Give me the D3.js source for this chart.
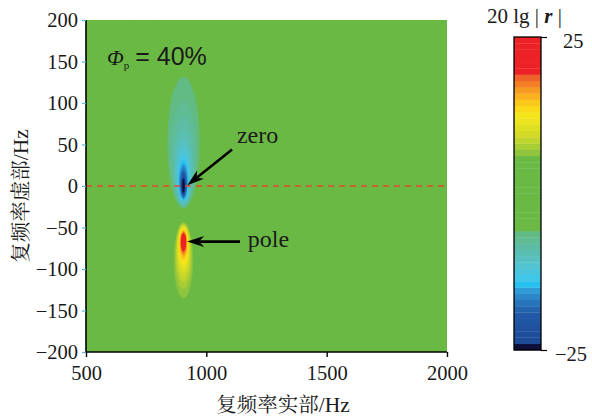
<!DOCTYPE html>
<html>
<head>
<meta charset="utf-8">
<script src="https://cdn.jsdelivr.net/npm/d3@7"></script>
<style>
  html, body { margin: 0; padding: 0; background: #ffffff; }
  svg { display: block; }
</style>
</head>
<body>
<svg id="chart" width="592" height="419"></svg>
<script>
// Axis ticks
const xTicks = [500, 1000, 1500, 2000];
const yTicks = [-200, -150, -100, -50, 0, 50, 100, 150, 200];
const colorbarTicks = [-25, 25];

// Pole-zero model of the ratio r on the complex-frequency plane (Hz)
const zeroPoint = [905, -1];      // [real part, imaginary part]
const polePoint = [905, -66];
const farFieldDb = -1.5;          // level of 20 lg|r| away from the pair
const ratioExponent = 1.3;        // steepness of |r| around the pair
const realPartWeight = 1.18;      // weighting of the real-part distance

// 1 dB colour bands from -25 dB (first) up to +25 dB (last)
const bandColors = [
  "#0e0f38",                                  // -25..-24
  "#1d4b97", "#1e4e9b", "#1f519e", "#2055a2", "#2159a6", // -24..-19
  "#2464ae", "#2874bb", "#2c86c8", "#2f9cd8", // -19..-15
  "#26c1ef",                                  // -15..-14
  "#3fc6e8", "#4bc5dd", "#52c3d0", "#57c1c2", "#5abfb3", "#5dbda4", "#5fbc95", "#62bb84", // -14..-6
  "#6bb945", "#6bb945", "#6bb945", "#6bb945", "#6bb945", "#6bb945", // -6..0
  "#6bb945", "#6bb945", "#6bb945", "#6bb945", "#6bb945", "#6bb945", //  0..6
  "#8fc43e", "#a8cd35", "#c0d52d", "#d2da27", "#dfe022", "#ebe41e", "#f4e51b", // 6..13
  "#f8da1a", "#fac71b", "#fbb11e", "#f79a22", "#f47f26", "#ef632a", // 13..19
  "#ec2227", "#ec2227", "#ec2227", "#ec2227", "#ec2227", "#ec2227"  // 19..25
];
const levelMin = -25, levelMax = 25;

// Annotations (data coordinates)
const zeroLabel = { text: "zero", at: [1127, 52], tail: [1107, 44], tip: [921, 1] };
const poleLabel = { text: "pole", at: [1172, -74], tail: [1140, -67], tip: [920, -67] };
const ratioLabel = { at: [587, 146] };

const svg = d3.select("#chart");
const margin = { left: 86, top: 20, right: 447, bottom: 352 };
const x = d3.scaleLinear().domain([500, 2000]).range([margin.left, margin.right]);
const y = d3.scaleLinear().domain([-200, 200]).range([margin.bottom, margin.top]);

const serif = "'Liberation Serif', 'Times New Roman', serif";
const sans = "'Liberation Sans', Arial, sans-serif";
const cjk = "'Noto Serif CJK SC', 'Noto Sans CJK SC', sans-serif";

// ---- field of 20 lg|r| on a pixel grid ----
const nx = Math.round(margin.right - margin.left);
const ny = Math.round(margin.bottom - margin.top);
const values = new Float64Array(nx * ny);
function dist(re, im, p) {
  const dr = (re - p[0]) * realPartWeight, di = im - p[1];
  return Math.sqrt(dr * dr + di * di);
}
for (let j = 0; j < ny; j++) {
  const im = y.invert(margin.top + j + 0.5);
  for (let i = 0; i < nx; i++) {
    const re = x.invert(margin.left + i + 0.5);
    const dz = Math.max(dist(re, im, zeroPoint), 1e-6);
    const dp = Math.max(dist(re, im, polePoint), 1e-6);
    const v = farFieldDb + 20 * ratioExponent * Math.log10(dz / dp);
    values[j * nx + i] = Math.max(levelMin, Math.min(levelMax, v));
  }
}
const thresholds = d3.range(levelMin, levelMax, 1);
const contours = d3.contours().size([nx, ny]).thresholds(thresholds)(values);

svg.append("clipPath").attr("id", "plotClip")
  .append("rect").attr("x", margin.left).attr("y", margin.top)
  .attr("width", nx).attr("height", ny);

const field = svg.append("g").attr("clip-path", "url(#plotClip)");
field.append("rect").attr("x", margin.left).attr("y", margin.top)
  .attr("width", nx).attr("height", ny).attr("fill", bandColors[0]);
field.append("g")
  .attr("transform", `translate(${margin.left},${margin.top})`)
  .selectAll("path").data(contours).join("path")
  .attr("d", d3.geoPath())
  .attr("fill", (d, i) => bandColors[i])
  .attr("stroke", (d, i) => bandColors[i])
  .attr("stroke-width", 0.4);

// dashed line along the real axis
field.append("line")
  .attr("x1", margin.left).attr("x2", margin.right)
  .attr("y1", y(0)).attr("y2", y(0))
  .attr("stroke", "#e8452d").attr("stroke-width", 1.4)
  .attr("stroke-dasharray", "6,5");

// ---- axes ----
const yAxis = svg.append("g").attr("transform", `translate(${margin.left},0)`)
  .call(d3.axisLeft(y).tickValues(yTicks).tickSize(4).tickPadding(4));
yAxis.select(".domain").attr("stroke", "#000").attr("stroke-width", 1.6)
  .attr("d", `M0,${margin.top}V${margin.bottom}`);
yAxis.selectAll(".tick line").attr("stroke", "#55b6e6").attr("stroke-width", 1.2);
yAxis.selectAll(".tick text").attr("font-family", serif).attr("font-size", 20.5)
  .attr("fill", "#1a1a1a").attr("dy", "0.34em");

const xAxis = svg.append("g").attr("transform", `translate(0,${margin.bottom})`)
  .call(d3.axisBottom(x).tickValues(xTicks).tickSize(5).tickPadding(8).tickFormat(d3.format("d")));
xAxis.select(".domain").attr("stroke", "#000").attr("stroke-width", 1.6)
  .attr("d", `M${margin.left},0H${margin.right}`);
xAxis.selectAll(".tick line").attr("stroke", "#000").attr("stroke-width", 1.4);
xAxis.selectAll(".tick text").attr("font-family", serif).attr("font-size", 20.5)
  .attr("fill", "#1a1a1a");

// axis titles
const xt = svg.append("text").attr("x", 283).attr("y", 412)
  .attr("text-anchor", "middle").attr("fill", "#1a1a1a");
xt.append("tspan").attr("font-family", cjk).attr("font-size", 20.5).text("复频率实部");
xt.append("tspan").attr("font-family", serif).attr("font-size", 21.5).text("/Hz");

const yt = svg.append("text")
  .attr("transform", `translate(28,196) rotate(-90)`)
  .attr("text-anchor", "middle").attr("fill", "#1a1a1a");
yt.append("tspan").attr("font-family", cjk).attr("font-size", 20.5).text("复频率虚部");
yt.append("tspan").attr("font-family", serif).attr("font-size", 21.5).text("/Hz");

// ---- annotations ----
const ann = svg.append("g");
const phi = ann.append("text").attr("x", x(ratioLabel.at[0])).attr("y", y(ratioLabel.at[1]))
  .attr("fill", "#1a1a1a");
phi.append("tspan").attr("font-family", serif).attr("font-style", "italic")
  .attr("font-size", 22).text("Φ");
phi.append("tspan").attr("font-family", serif).attr("font-size", 11).attr("dy", 4).text("p");
phi.append("tspan").attr("font-family", sans).attr("font-size", 25).attr("dy", -4)
  .attr("dx", 6).text("= 40%");

function arrow(a) {
  const x0 = x(a.tail[0]), y0 = y(a.tail[1]);
  const x1 = x(a.tip[0]), y1 = y(a.tip[1]);
  const ang = Math.atan2(y1 - y0, x1 - x0);
  const len = 17, half = 5.5, notch = 12;
  const ux = Math.cos(ang), uy = Math.sin(ang);
  const bx = x1 - ux * len, by = y1 - uy * len;
  const nx_ = x1 - ux * notch, ny_ = y1 - uy * notch;
  ann.append("line").attr("x1", x0).attr("y1", y0)
    .attr("x2", x1 - ux * 10).attr("y2", y1 - uy * 10)
    .attr("stroke", "#000").attr("stroke-width", 2.6);
  ann.append("path")
    .attr("d", `M${x1},${y1}L${bx - uy * half},${by + ux * half}L${nx_},${ny_}L${bx + uy * half},${by - ux * half}Z`)
    .attr("fill", "#000");
  ann.append("text").attr("x", x(a.at[0])).attr("y", y(a.at[1]))
    .attr("font-family", serif).attr("font-size", 24).attr("fill", "#1a1a1a").text(a.text);
}
arrow(zeroLabel);
arrow(poleLabel);

// ---- colour bar ----
const cb = { x: 514, w: 27, top: 37, bottom: 350 };
const cy = d3.scaleLinear().domain([levelMin, levelMax]).range([cb.bottom, cb.top]);
svg.append("g").selectAll("rect").data(bandColors).join("rect")
  .attr("x", cb.x).attr("width", cb.w)
  .attr("y", (d, i) => cy(levelMin + i + 1))
  .attr("height", (d, i) => cy(levelMin + i) - cy(levelMin + i + 1) + 0.3)
  .attr("fill", d => d);
svg.append("rect").attr("x", cb.x).attr("y", cb.top).attr("width", cb.w)
  .attr("height", cb.bottom - cb.top).attr("fill", "none")
  .attr("stroke", "#000").attr("stroke-width", 1.3);
const cbAxis = svg.append("g").attr("transform", `translate(${cb.x + cb.w},0)`)
  .call(d3.axisRight(cy).tickValues(colorbarTicks).tickSize(6).tickPadding(14));
cbAxis.select(".domain").remove();
cbAxis.selectAll(".tick line").attr("stroke", "#000").attr("stroke-width", 1.2);
cbAxis.selectAll(".tick text").attr("font-family", serif).attr("font-size", 20.5)
  .attr("fill", "#1a1a1a").attr("dy", "0.5em").attr("dx", d => d < 0 ? -6 : 2);

const ct = svg.append("text").attr("x", 487).attr("y", 23).attr("fill", "#1a1a1a")
  .attr("font-family", serif).attr("font-size", 21);
ct.append("tspan").text("20 lg | ");
ct.append("tspan").attr("font-style", "italic").attr("font-weight", "bold").text("r");
ct.append("tspan").text(" |");
</script>
</body>
</html>
